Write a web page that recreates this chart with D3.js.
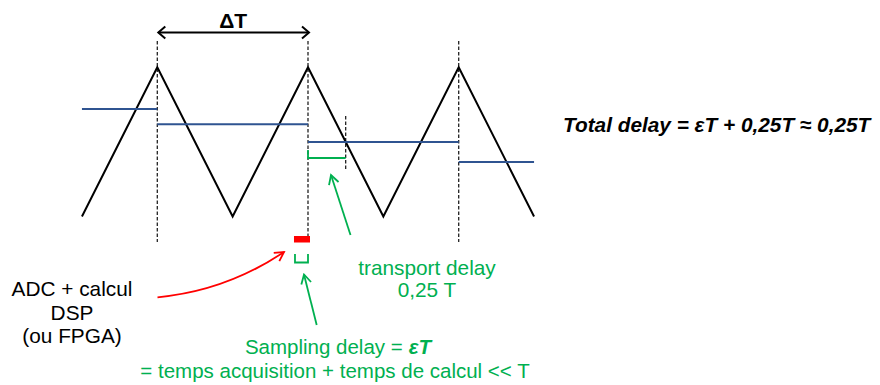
<!DOCTYPE html>
<html><head><meta charset="utf-8">
<script src="https://cdn.jsdelivr.net/npm/d3@7"></script>
<style>
body{margin:0;background:#fff}
text{font-family:"Liberation Sans",Arial,Helvetica,sans-serif}
</style>
</head><body>
<svg id="c" width="880" height="385"></svg>
<script>
// ---- data (time in units of the sampling period T, value normalised 0..1) ----
const waveTimes  = [-0.5, 0, 0.5, 1, 1.5, 2, 2.5];
const waveValues = [0, 1, 0, 1, 0, 1, 0];
const holdStart  = [-0.5, 0, 1, 2];
const holdEnd    = [0, 1, 2, 2.5];
const holdValues = [0.72, 0.618, 0.50, 0.365];
const sampleTimes = [0, 1, 2];
const transportDelay = 0.25;   // in T
const samplingEps = 0.093;     // epsilon (in T)
const labelTotal = "Total delay = εT + 0,25T ≈ 0,25T";
const labelDT = "ΔT";
const labelADC = ["ADC + calcul", "DSP", "(ou FPGA)"];
const labelTransport = ["transport delay", "0,25 T"];
const labelSampling1 = "Sampling delay =";
const labelSamplingEps = "εT";
const labelSampling2 = "= temps acquisition + temps de calcul << T";

const GREEN = "#00b050", RED = "#ff0000", BLUE = "#2f5491";

const svg = d3.select("#c");
svg.append("rect").attr("width", 880).attr("height", 385).attr("fill", "#fff");

const x = d3.scaleLinear().domain([0, 1]).range([157.3, 308]);
const y = d3.scaleLinear().domain([0, 1]).range([216.5, 67.3]);

// markers
const defs = svg.append("defs");
function marker(id, color, len, half, sw) {
  defs.append("marker").attr("id", id)
    .attr("markerUnits", "userSpaceOnUse")
    .attr("viewBox", `${-len-2} ${-half-2} ${len+4} ${2*half+4}`)
    .attr("markerWidth", len + 4).attr("markerHeight", 2 * half + 4)
    .attr("refX", 0).attr("refY", 0)
    .attr("orient", "auto-start-reverse")
    .append("path").attr("d", `M${-len},${-half}L0,0L${-len},${half}`)
    .attr("fill", "none").attr("stroke", color).attr("stroke-width", sw);
}
marker("mBlack", "#000", 7, 6, 2);
marker("mGreen", GREEN, 9, 5, 1.8);
marker("mRed", RED, 9, 5, 1.8);

// dashed sample lines
svg.selectAll("line.samp").data(sampleTimes).join("line")
  .attr("class", "samp")
  .attr("x1", d => x(d)).attr("x2", d => x(d))
  .attr("y1", 41).attr("y2", d => d === 1 ? 236 : 242)
  .attr("stroke", "#222").attr("stroke-width", 1.3).attr("stroke-dasharray", "3.5,2");

// transport delay dashed marker
svg.append("line")
  .attr("x1", x(1 + transportDelay)).attr("x2", x(1 + transportDelay))
  .attr("y1", 116).attr("y2", 169)
  .attr("stroke", "#222").attr("stroke-width", 1.3).attr("stroke-dasharray", "3.5,2");

// triangle wave
const line = d3.line().x(d => x(d[0])).y(d => y(d[1]));
svg.append("path")
  .attr("d", line(waveTimes.map((t, i) => [t, waveValues[i]])))
  .attr("fill", "none").attr("stroke", "#000").attr("stroke-width", 2)
  .attr("stroke-linejoin", "miter");

// sample-and-hold blue segments
svg.selectAll("line.hold").data(holdValues).join("line")
  .attr("class", "hold")
  .attr("x1", (d, i) => x(holdStart[i])).attr("x2", (d, i) => x(holdEnd[i]))
  .attr("y1", d => y(d)).attr("y2", d => y(d))
  .attr("stroke", BLUE).attr("stroke-width", 2);

// ΔT arrow
svg.append("line")
  .attr("x1", x(sampleTimes[0]) + 1).attr("x2", x(sampleTimes[1]) + 1)
  .attr("y1", 32.5).attr("y2", 32.5)
  .attr("stroke", "#000").attr("stroke-width", 2)
  .attr("marker-start", "url(#mBlack)").attr("marker-end", "url(#mBlack)");
svg.append("text").attr("x", x(0.5) + 0.5).attr("y", 27.5)
  .attr("text-anchor", "middle").attr("font-size", 21).attr("font-weight", "bold")
  .text(labelDT);

// green transport bracket
svg.append("path")
  .attr("d", `M${x(1)},150V158H${x(1 + transportDelay)}`)
  .attr("fill", "none").attr("stroke", GREEN).attr("stroke-width", 1.8);

// red sampling block
svg.append("rect")
  .attr("x", x(1 - samplingEps)).attr("y", 236)
  .attr("width", x(1) - x(1 - samplingEps) + 2).attr("height", 6.5)
  .attr("fill", RED);

// green small U bracket
svg.append("path")
  .attr("d", `M${x(1 - samplingEps) + 1},254V262.5H${x(1)}V254`)
  .attr("fill", "none").attr("stroke", GREEN).attr("stroke-width", 1.8);

// arrows
svg.append("line").attr("x1", 350.5).attr("y1", 235).attr("x2", 331).attr("y2", 175)
  .attr("stroke", GREEN).attr("stroke-width", 1.8).attr("marker-end", "url(#mGreen)");
svg.append("line").attr("x1", 316.7).attr("y1", 325).attr("x2", 304).attr("y2", 274.5)
  .attr("stroke", GREEN).attr("stroke-width", 1.8).attr("marker-end", "url(#mGreen)");
svg.append("path").attr("d", "M157.5,297.3Q226,291 284,252")
  .attr("fill", "none").attr("stroke", RED).attr("stroke-width", 1.8)
  .attr("marker-end", "url(#mRed)");

// texts
svg.append("text").attr("x", 563).attr("y", 131.5)
  .attr("font-size", 20.8).attr("font-weight", "bold").attr("font-style", "italic")
  .text(labelTotal);

const adc = svg.append("text").attr("text-anchor", "middle").attr("font-size", 20.8);
labelADC.forEach((s, i) => adc.append("tspan").attr("x", 72).attr("y", 296 + i * 23.5).text(s));

const tr = svg.append("text").attr("text-anchor", "middle").attr("font-size", 20.8).attr("fill", GREEN);
labelTransport.forEach((s, i) => tr.append("tspan").attr("x", 427).attr("y", 275 + i * 22).text(s));

// "Sampling delay = εT" as two adjacent text elements, centred as a group
const FS = 20.5;
const sA = svg.append("text").attr("y", 354).attr("font-size", FS).attr("fill", GREEN).text(labelSampling1);
const sB = svg.append("text").attr("y", 354).attr("font-size", FS).attr("fill", GREEN)
  .attr("font-weight", "bold").attr("font-style", "italic").text(labelSamplingEps);
const gap = 6;
const wA = sA.node().getComputedTextLength(), wB = sB.node().getComputedTextLength();
const startX = 338 - (wA + gap + wB) / 2;
sA.attr("x", startX);
sB.attr("x", startX + wA + gap);

svg.append("text").attr("x", 335).attr("y", 377.5).attr("text-anchor", "middle")
  .attr("font-size", FS).attr("fill", GREEN).text(labelSampling2);
</script>
</body></html>
